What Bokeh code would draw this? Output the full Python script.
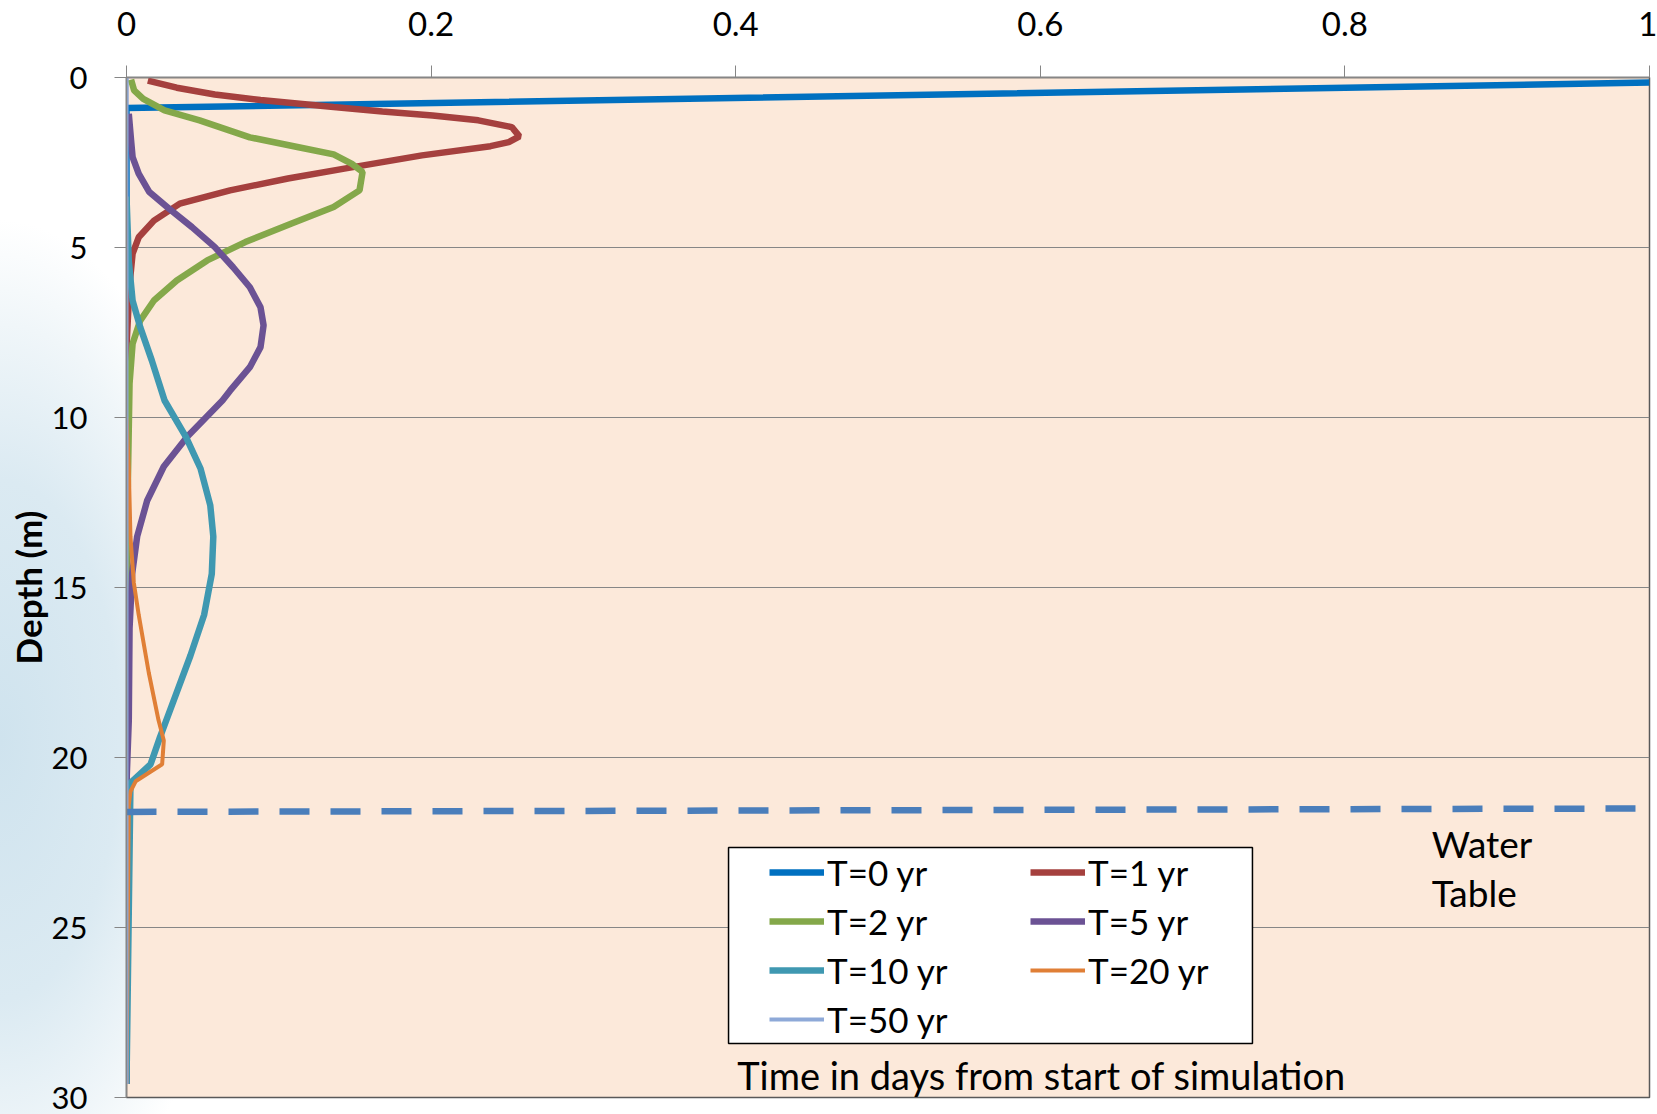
from bokeh.plotting import figure
from bokeh.models import Range1d, FixedTicker, Legend, LegendItem, Label, BoxAnnotation
from bokeh.embed import file_html
from bokeh.resources import INLINE

# ---- data (concentration vs depth) ----
depth_t0 = [0.15, 0.9, 29.6]
conc_t0 = [1.0, 0.0, 0.0]

depth_t1 = [0.09, 0.30, 0.50, 0.66, 0.87, 1.0, 1.12, 1.26, 1.46, 1.73, 1.90, 2.02, 2.29, 2.68, 2.97,
            3.32, 3.71, 4.21, 4.70, 5.18, 6.1, 7.9, 29.6]
conc_t1 = [0.014, 0.033, 0.058, 0.088, 0.136, 0.168, 0.201, 0.231, 0.253, 0.258, 0.251, 0.239, 0.194,
           0.143, 0.106, 0.068, 0.035, 0.018, 0.008, 0.004, 0.002, 0.0, 0.0]

depth_t2 = [0.06, 0.38, 0.63, 0.97, 1.26, 1.76, 2.05, 2.26, 2.54, 2.78, 3.32, 3.81, 4.30, 4.84, 5.38,
            5.97, 6.56, 7.15, 7.83, 9.0, 14.3, 29.6]
conc_t2 = [0.003, 0.005, 0.011, 0.025, 0.048, 0.081, 0.113, 0.136, 0.148, 0.155, 0.153, 0.136, 0.108,
           0.078, 0.053, 0.033, 0.018, 0.009, 0.004, 0.002, 0.0, 0.0]

depth_t5 = [1.07, 1.85, 2.34, 2.83, 3.37, 3.86, 4.40, 4.99, 5.58, 6.17, 6.76, 7.29, 7.93, 8.52, 9.21,
            9.5, 10.56, 11.44, 12.44, 13.5, 14.6, 16.2, 18.9, 20.75, 29.6]
conc_t5 = [0.0015, 0.003, 0.004, 0.008, 0.015, 0.028, 0.043, 0.058, 0.070, 0.081, 0.088, 0.090, 0.088,
           0.081, 0.068, 0.063, 0.040, 0.0245, 0.0136, 0.007, 0.0037, 0.002, 0.0015, 0.0, 0.0]

depth_t10 = [3.5, 5.4, 6.56, 7.34, 8.32, 9.5, 10.57, 11.5, 12.58, 13.5, 14.6, 15.8, 17.0, 18.2, 19.4,
             20.2, 20.75, 29.6]
conc_t10 = [0.0, 0.0015, 0.004, 0.009, 0.0166, 0.025, 0.039, 0.0486, 0.055, 0.057, 0.056, 0.051, 0.042,
            0.032, 0.022, 0.0158, 0.0026, 0.0]

depth_t20 = [10.0, 11.5, 13.5, 14.86, 15.8, 17.5, 18.9, 19.5, 20.2, 20.7, 21.0, 21.4, 29.6]
conc_t20 = [0.0, 0.0015, 0.0026, 0.0048, 0.008, 0.0146, 0.021, 0.0245, 0.0234, 0.006, 0.0026, 0.0015, 0.0]

depth_t50 = [0.0, 29.6]
conc_t50 = [0.0, 0.0]

water_table_x = [0.0, 1.0]
water_table_depth = [21.6, 21.5]

series_labels = ["T=0 yr", "T=1 yr", "T=2 yr", "T=5 yr", "T=10 yr", "T=20 yr", "T=50 yr"]
x_ticks = [0, 0.2, 0.4, 0.6, 0.8, 1]
x_tick_labels = ["0", "0.2", "0.4", "0.6", "0.8", "1"]
y_ticks = [0, 5, 10, 15, 20, 25, 30]

FONT = "Lato"
LW = 6.5

p = figure(width=1657, height=1114, output_backend="svg", toolbar_location=None,
           x_range=Range1d(0, 1), y_range=Range1d(30, 0), x_axis_location="above",
           min_border_left=126, min_border_right=8, min_border_top=77, min_border_bottom=17)

p.styles = {"background": "radial-gradient(ellipse 240px 520px at 0px 740px, #cfe3ee 0%, #dbeaf2 50%, #f0f6f9 80%, #ffffff 100%)"}
p.border_fill_alpha = 0
p.background_fill_color = "#FCE9DA"
p.outline_line_color = "#595959"
p.outline_line_width = 1.5

# axes
xa = p.xaxis[0]
xa.ticker = FixedTicker(ticks=x_ticks)
xa.major_label_overrides = {t: l for t, l in zip(x_ticks, x_tick_labels)}
ya = p.yaxis[0]
ya.ticker = FixedTicker(ticks=y_ticks)
for ax in (xa, ya):
    ax.axis_line_color = "#868686"
    ax.axis_line_width = 1.5
    ax.major_tick_line_color = "#868686"
    ax.major_tick_out = 12
    ax.major_tick_in = 0
    ax.minor_tick_line_color = None
    ax.major_label_text_font = FONT
    ax.major_label_text_color = "#000000"
xa.major_label_text_font_size = "33px"
ya.major_label_text_font_size = "31px"
xa.major_label_standoff = 30
ya.major_label_standoff = 27
ya.axis_label = "Depth (m)"
ya.axis_label_text_font = FONT
ya.axis_label_text_font_size = "35px"
ya.axis_label_text_font_style = "bold"
ya.axis_label_text_color = "#000000"
ya.axis_label_standoff = 0

p.xgrid.grid_line_color = None
p.ygrid.ticker = FixedTicker(ticks=y_ticks)
p.ygrid.grid_line_color = "#868686"
p.ygrid.grid_line_width = 1.2

# series
r50 = p.line(conc_t50, depth_t50, line_color="#8EA9D8", line_width=4)
r0 = p.line(conc_t0, depth_t0, line_color="#0070C0", line_width=LW)
r1 = p.line(conc_t1, depth_t1, line_color="#A5403E", line_width=LW)
r2 = p.line(conc_t2, depth_t2, line_color="#84A84A", line_width=LW)
r5 = p.line(conc_t5, depth_t5, line_color="#6B5294", line_width=LW)
r10 = p.line(conc_t10, depth_t10, line_color="#3F98B1", line_width=LW)
r20 = p.line(conc_t20, depth_t20, line_color="#E07F36", line_width=4)
r50b = p.line(conc_t50, depth_t50, line_color="#8EA9D8", line_width=4)
p.line(water_table_x, water_table_depth, line_color="#4A7EBB", line_width=6.5, line_dash="30 21")

# legend box (white with black border) behind the two legend columns
p.add_layout(BoxAnnotation(left=0.3953, right=0.7393, top=22.65, bottom=28.41,
                           fill_color="#FFFFFF", fill_alpha=1.0,
                           line_color="#000000", line_width=1.5, line_alpha=1.0))

common = dict(label_text_font=FONT, label_text_font_size="35px", label_text_color="#000000",
              glyph_width=55, glyph_height=20, label_height=49, label_standoff=3, spacing=0,
              padding=0, margin=0, border_line_color=None, background_fill_alpha=0)
leg_left = Legend(items=[LegendItem(label=series_labels[0], renderers=[r0]),
                         LegendItem(label=series_labels[2], renderers=[r2]),
                         LegendItem(label=series_labels[4], renderers=[r10]),
                         LegendItem(label=series_labels[6], renderers=[r50])],
                  location=(643, 53.5), **common)
leg_right = Legend(items=[LegendItem(label=series_labels[1], renderers=[r1]),
                          LegendItem(label=series_labels[3], renderers=[r5]),
                          LegendItem(label=series_labels[5], renderers=[r20])],
                   location=(904, 102.5), **common)
p.add_layout(leg_left)
p.add_layout(leg_right)

p.add_layout(Label(x=0.401, y=29.35, text="Time in days from start of simulation", text_font=FONT,
                   text_font_size="38px", text_color="#000000", text_baseline="middle"))
p.add_layout(Label(x=0.857, y=22.52, text="Water", text_font=FONT, text_font_size="37px",
                   text_color="#000000", text_baseline="middle"))
p.add_layout(Label(x=0.857, y=23.97, text="Table", text_font=FONT, text_font_size="37px",
                   text_color="#000000", text_baseline="middle"))

open("out.html", "w").write(file_html(p, INLINE))
